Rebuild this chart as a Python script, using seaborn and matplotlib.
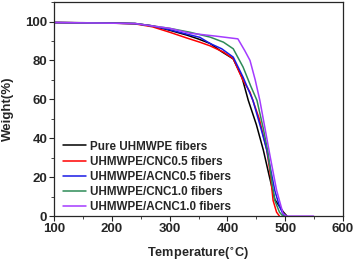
import pandas as pd
import matplotlib
matplotlib.use("Agg")
import matplotlib.pyplot as plt
import seaborn as sns
from matplotlib.ticker import MultipleLocator

# TGA curves
labels = ["Pure UHMWPE fibers", "UHMWPE/CNC0.5 fibers", "UHMWPE/ACNC0.5 fibers",
          "UHMWPE/CNC1.0 fibers", "UHMWPE/ACNC1.0 fibers"]
colors = ["#000000", "#FF0000", "#1A1AE6", "#2E8B57", "#A43BFF"]

pure_t = [100, 150, 200, 240, 270, 300, 330, 350, 370, 390, 410, 425, 436, 450, 462, 472, 482, 490, 497, 503]
pure_w = [99.5, 99.4, 99.2, 99.0, 97.8, 95.5, 93.0, 91.0, 88.7, 84.5, 80.8, 71.4, 59.5, 47.0, 34.0, 21.0, 8.5, 5.0, 2.0, 0.0]

cnc05_t = [100, 200, 240, 270, 300, 330, 352, 370, 393, 410, 427, 439, 455, 468, 474, 479, 485, 490]
cnc05_w = [99.5, 99.2, 98.8, 97.3, 94.5, 91.5, 89.4, 87.5, 84.3, 80.9, 69.7, 63.7, 50.0, 34.0, 22.0, 8.0, 2.0, 0.0]

acnc05_t = [100, 200, 240, 270, 300, 330, 352, 370, 390, 410, 427, 444, 458, 468, 476, 482, 490, 497, 500]
acnc05_w = [99.5, 99.2, 98.9, 97.7, 95.8, 93.5, 91.9, 88.7, 86.0, 81.7, 71.4, 59.5, 45.0, 34.0, 22.0, 13.0, 5.0, 0.5, 0.0]

cnc10_t = [100, 240, 300, 335, 370, 393, 410, 427, 440, 451, 462, 470, 477, 482, 490, 496, 500]
cnc10_w = [99.5, 99.0, 96.5, 94.5, 92.0, 89.4, 86.0, 76.6, 67.0, 59.5, 45.0, 33.0, 17.0, 8.0, 2.0, 0.0, 0.0]

acnc10_t = [100, 240, 300, 335, 380, 418, 430, 439, 448, 456, 465, 474, 485, 496, 502, 549]
acnc10_w = [99.5, 99.0, 96.5, 94.0, 92.5, 91.1, 85.0, 80.0, 70.0, 59.5, 45.0, 30.4, 13.3, 1.5, 0.0, 0.0]

series = [(pure_t, pure_w), (cnc05_t, cnc05_w), (acnc05_t, acnc05_w),
          (cnc10_t, cnc10_w), (acnc10_t, acnc10_w)]

sns.set_style("ticks")
plt.rcParams["font.family"] = ["Liberation Sans", "DejaVu Sans"]
plt.rcParams["font.weight"] = "bold"

fig = plt.figure(figsize=(3.54, 2.61), dpi=100)
ax = fig.add_axes([0.153, 0.172, 0.816, 0.82])

for lab, col, (t, w) in zip(labels, colors, series):
    df = pd.DataFrame({"T": t, "W": w})
    sns.lineplot(data=df, x="T", y="W", ax=ax, color=col, linewidth=1.1,
                 label=lab, sort=False)

ax.set_xlim(100, 600)
ax.set_ylim(0, 110)
ax.set_yticks([0, 20, 40, 60, 80, 100])
ax.xaxis.set_minor_locator(MultipleLocator(50))
ax.yaxis.set_minor_locator(MultipleLocator(10))
ax.tick_params(which="major", direction="out", length=3.5, width=0.8, labelsize=9.5, pad=1.5)
ax.tick_params(which="minor", direction="out", length=2, width=0.6)
for lbl in ax.get_xticklabels() + ax.get_yticklabels():
    lbl.set_fontweight("bold")
for s in ax.spines.values():
    s.set_linewidth(0.9)

ax.set_xlabel("Temperature($^{\\circ}$C)", fontsize=9.2, fontweight="bold", labelpad=7)
ax.set_ylabel("Weight(%)", fontsize=9.5, fontweight="bold", labelpad=8)

leg = ax.legend(loc="lower left", bbox_to_anchor=(0.014, -0.008), frameon=False,
                fontsize=8.4, handlelength=2.0, handletextpad=0.3,
                labelspacing=0.27, borderaxespad=0.0)
for txt in leg.get_texts():
    txt.set_fontweight("bold")

fig.savefig("out.png", dpi=100)
